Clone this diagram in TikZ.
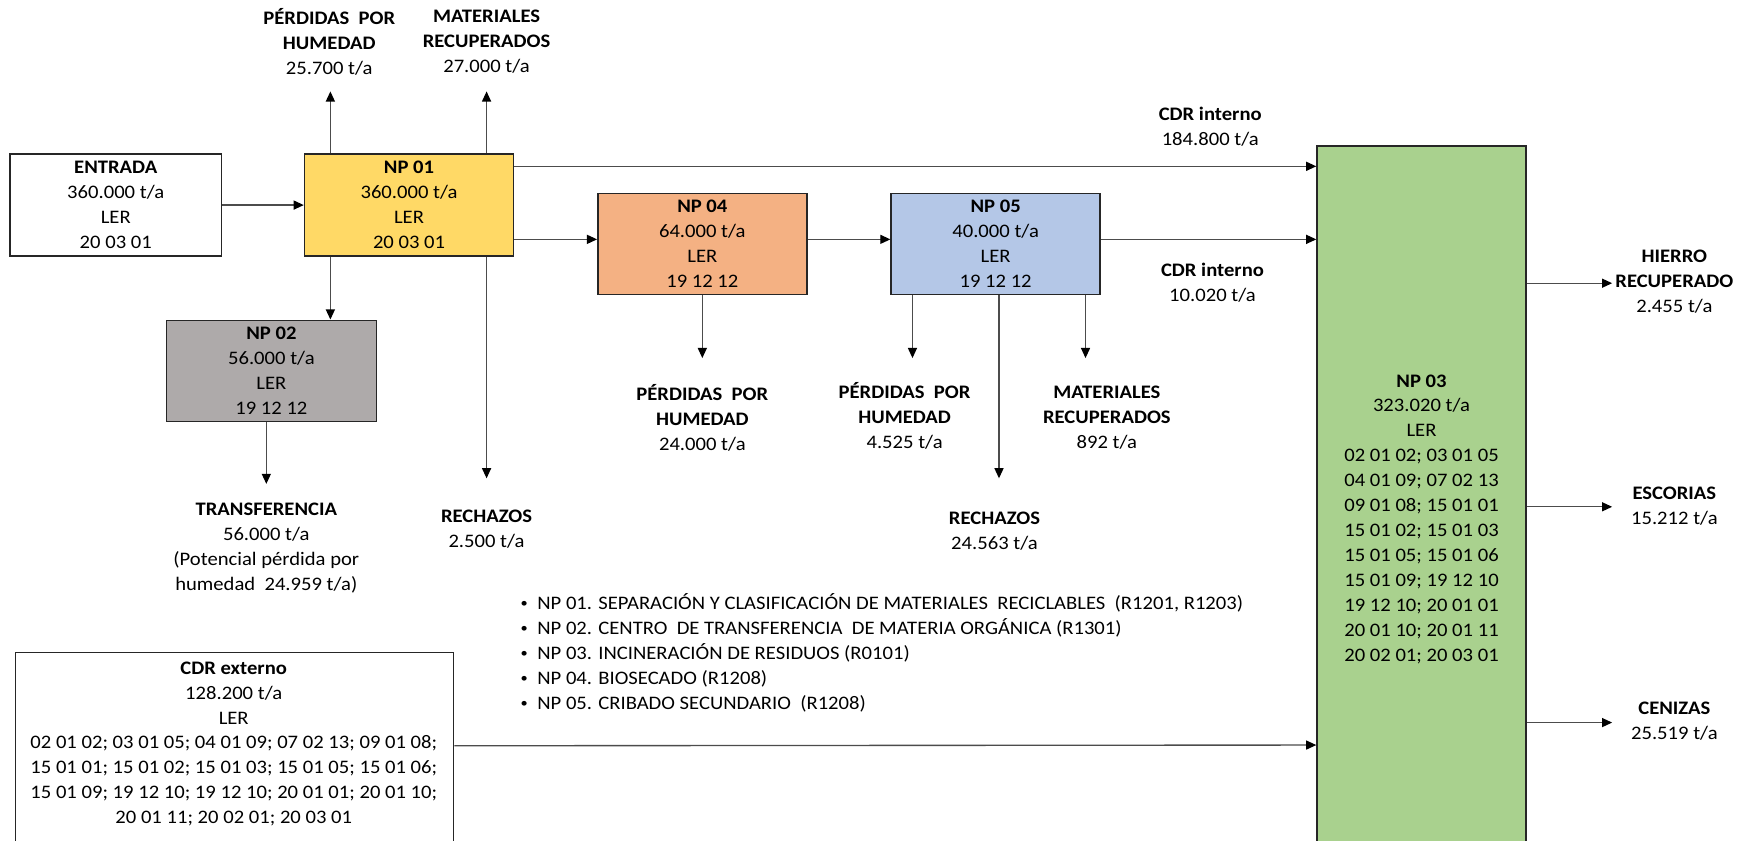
\documentclass[tikz,border=0pt]{standalone}
\usepackage{fontspec}
\setmainfont{Carlito}[FakeStretch=1.08]
\usetikzlibrary{arrows.meta}
\definecolor{npone}{HTML}{FFD966}
\definecolor{nptwo}{HTML}{AEAAAA}
\definecolor{npthree}{HTML}{A9D18E}
\definecolor{npfour}{HTML}{F4B183}
\definecolor{npfive}{HTML}{B4C7E7}
\newcommand{\fsz}{\fontsize{17}{22.2}\selectfont}
\newcommand{\bul}{\makebox[16pt][l]{\hspace{1pt}\raisebox{0.25ex}{\scalebox{0.7}{\textbullet}}}}
\begin{document}
\begin{tikzpicture}[x=1pt,y=-1pt,
  every node/.style={font=\fsz, inner sep=0pt, align=center},
  box/.style={draw=black!85, line width=1.3pt, minimum width=186pt, minimum height=90pt},
  arr/.style={draw=black!70, line width=1.2pt, -{Triangle[length=9pt,width=8pt,color=black]}},
]
\clip (0,0) rectangle (1568,748);
\fill[white] (0,0) rectangle (1568,748);
% boxes
\node[box, fill=white, minimum width=188pt, minimum height=91pt] (entrada) at (103,182.5) {\textbf{ENTRADA}\\360.000 t/a\\LER\\20 03 01};
\node[box, fill=npone, minimum height=91pt] (np01) at (364,182.5) {\textbf{NP 01}\\360.000 t/a\\LER\\20 03 01};
\node[box, fill=nptwo, minimum width=187pt] (np02) at (241.5,330) {\textbf{NP 02}\\56.000 t/a\\LER\\19 12 12};
\node[box, fill=npfour] (np04) at (625,217) {\textbf{NP 04}\\64.000 t/a\\LER\\19 12 12};
\node[box, fill=npfive] (np05) at (886,217) {\textbf{NP 05}\\40.000 t/a\\LER\\19 12 12};
\node[box, fill=npthree, minimum height=660pt] (np03) at (1265,460) {};
\node (np03t) at (1265,462) {\textbf{NP 03}\\323.020 t/a\\LER\\02 01 02; 03 01 05\\04 01 09; 07 02 13\\09 01 08; 15 01 01\\15 01 02; 15 01 03\\15 01 05; 15 01 06\\15 01 09; 19 12 10\\19 12 10; 20 01 01\\20 01 10; 20 01 11\\20 02 01; 20 03 01};
\node[box, fill=white, minimum width=390pt, minimum height=210pt, anchor=north west] (cdrext) at (13,580) {};
\node (cdrextt) at (208,662) {\textbf{CDR externo}\\128.200 t/a\\LER\\02 01 02; 03 01 05; 04 01 09; 07 02 13; 09 01 08;\\15 01 01; 15 01 02; 15 01 03; 15 01 05; 15 01 06;\\15 01 09; 19 12 10; 19 12 10; 20 01 01; 20 01 10;\\20 01 11; 20 02 01; 20 03 01};
% labels
\node (pph1) at (293,37) {\textbf{PÉRDIDAS\ \ POR}\\\textbf{HUMEDAD}\\25.700 t/a};
\node (mr1) at (433,37) {\textbf{MATERIALES}\\\textbf{RECUPERADOS}\\27.000 t/a};
\node (cdr1) at (1077,112.5) {\textbf{CDR interno}\\184.800 t/a};
\node (cdr2) at (1079,251.5) {\textbf{CDR interno}\\10.020 t/a};
\node (trans) at (237,488) {\textbf{TRANSFERENCIA}\\56.000 t/a\\(Potencial pérdida por\\humedad\ \ 24.959 t/a)};
\node (rech1) at (433,470.5) {\textbf{RECHAZOS}\\2.500 t/a};
\node (pph2) at (625,372) {\textbf{PÉRDIDAS\ \ POR}\\\textbf{HUMEDAD}\\24.000 t/a};
\node (pph3) at (805,370) {\textbf{PÉRDIDAS\ \ POR}\\\textbf{HUMEDAD}\\4.525 t/a};
\node (mr2) at (985,372) {\textbf{MATERIALES}\\\textbf{RECUPERADOS}\\892 t/a};
\node (rech2) at (885,473) {\textbf{RECHAZOS}\\24.563 t/a};
\node (hierro) at (1490,251) {\textbf{HIERRO}\\\textbf{RECUPERADO}\\2.455 t/a};
\node (escorias) at (1490,450.5) {\textbf{ESCORIAS}\\15.212 t/a};
\node (cenizas) at (1490,641.5) {\textbf{CENIZAS}\\25.519 t/a};
\node[anchor=west, align=left] (leyenda) at (462,581) {%
\bul NP 01. SEPARACIÓN Y CLASIFICACIÓN DE MATERIALES\ \ RECICLABLES\ \ (R1201, R1203)\\
\bul NP 02. CENTRO\ \ DE TRANSFERENCIA\ \ DE MATERIA ORGÁNICA (R1301)\\
\bul NP 03. INCINERACIÓN DE RESIDUOS (R0101)\\
\bul NP 04. BIOSECADO (R1208)\\
\bul NP 05. CRIBADO SECUNDARIO\ \ (R1208)};
% connectors
\draw[arr] (entrada) -- (np01);
\draw[arr] ([yshift=34.5pt]np01.east) -- ([yshift=312pt]np03.west);
\draw[arr] ([yshift=-30.5pt]np01.east) -- ([yshift=4pt]np04.west);
\draw[arr] ([yshift=4pt]np04.east) -- ([yshift=4pt]np05.west);
\draw[arr] ([yshift=4pt]np05.east) -- ([yshift=247pt]np03.west);
\draw[arr] ([yshift=22pt]cdrext.east) -- ([yshift=-203pt]np03.west);
\draw[arr] ([xshift=-70pt]np01.north) -- ++(0,-55);
\draw[arr] ([xshift=69pt]np01.north) -- ++(0,-55);
\draw[arr] ([xshift=-70pt]np01.south) -- ([xshift=-70pt]np01.south |- np02.north);
\draw[arr] ([xshift=69pt]np01.south) -- ++(0,197);
\draw[arr] ([xshift=-4.5pt]np02.south) -- ++(0,55);
\draw[arr] (np04.south) -- ++(0,56);
\draw[arr] ([xshift=-74pt]np05.south) -- ++(0,56);
\draw[arr] ([xshift=3pt]np05.south) -- ++(0,163);
\draw[arr] ([xshift=80pt]np05.south) -- ++(0,56);
\draw[arr] ([yshift=208pt]np03.east) -- ++(76,0);
\draw[arr] ([yshift=9pt]np03.east) -- ++(76,0);
\draw[arr] ([yshift=-183pt]np03.east) -- ++(76,0);
\end{tikzpicture}
\end{document}
